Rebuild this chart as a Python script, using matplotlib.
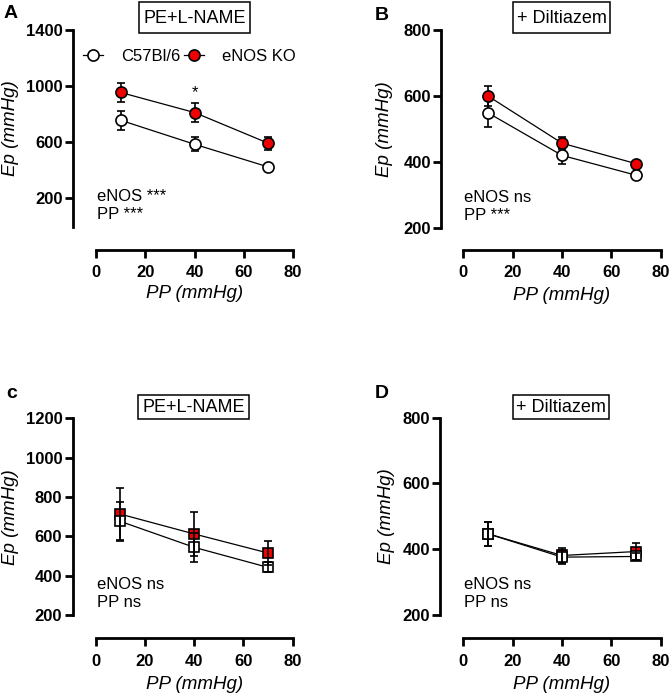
import matplotlib
matplotlib.use('Agg')
import matplotlib.pyplot as plt
from matplotlib.lines import Line2D
from matplotlib.patches import Rectangle

plt.rcParams['font.family'] = ['Liberation Sans', 'DejaVu Sans']

W, H = 671, 696

# PP (mmHg) levels
pp = [10, 40, 70]

# A: PE+L-NAME, circles
a_wt = [757, 586, 424]
a_wt_err = [68, 50, 12]
a_ko = [955, 812, 593]
a_ko_err = [65, 65, 45]
# B: + Diltiazem, circles
b_wt = [549, 420, 360]
b_wt_err = [42, 25, 8]
b_ko = [600, 457, 395]
b_ko_err = [30, 18, 8]
# c: PE+L-NAME, squares
c_wt = [676, 544, 442]
c_wt_err = [98, 73, 25]
c_ko = [713, 612, 515]
c_ko_err = [134, 110, 63]
# D: + Diltiazem, squares
d_wt = [447, 376, 378]
d_wt_err = [37, 21, 12]
d_ko = [447, 381, 393]
d_ko_err = [37, 24, 27]

fig = plt.figure(figsize=(W/100, H/100), dpi=100)

def px_axes(x0, x1, ytop, ybot):
    return fig.add_axes([x0/W, 1-ybot/H, (x1-x0)/W, (ybot-ytop)/H])

def style(ax, ylim, yticks, left_off, bot_off, ylab_x, xlab_y):
    ax.set_xlim(0, 80)
    ax.set_ylim(*ylim)
    ax.set_xticks([0, 20, 40, 60, 80])
    ax.set_yticks(yticks)
    for s in ['top', 'right']:
        ax.spines[s].set_visible(False)
    ax.spines['left'].set_position(('outward', left_off*0.72))
    ax.spines['bottom'].set_position(('outward', bot_off*0.72))
    for s in ['left', 'bottom']:
        ax.spines[s].set_linewidth(2.0)
    ax.tick_params(width=2.0, length=6, labelsize=12, pad=1.5)
    ax.tick_params(axis='x', pad=5)
    for lab in ax.get_xticklabels() + ax.get_yticklabels():
        lab.set_fontweight('bold')
    ax.set_ylabel('Ep (mmHg)', fontsize=13.5, style='italic')
    ax.set_xlabel('PP (mmHg)', fontsize=13.5, style='italic')
    ax.yaxis.set_label_coords(ylab_x, 0.5)
    ax.xaxis.set_label_coords(0.5, xlab_y)

def draw(ax, wt, wt_err, ko, ko_err, marker, ms, ebar_top):
    ez = 5 if ebar_top else 2
    for y, e in [(ko, ko_err), (wt, wt_err)]:
        ax.errorbar(pp, y, yerr=e, fmt='none', ecolor='black', elinewidth=1.2,
                    capsize=3, capthick=1.2, zorder=ez, clip_on=False)
    ax.plot(pp, ko, color='black', lw=0.9, marker=marker, ms=ms, mfc='#ee0000',
            mec='black', mew=1.2, zorder=3, clip_on=False)
    ax.plot(pp, wt, color='black', lw=0.9, marker=marker, ms=ms, mfc='white',
            mec='black', mew=1.2, zorder=4, clip_on=False)

def stats(ax, l1, l2):
    ax.text(0.005, 0.155, l1, transform=ax.transAxes, fontsize=12, va='center', ha='left')
    ax.text(0.005, 0.063, l2, transform=ax.transAxes, fontsize=12, va='center', ha='left')

def title_box(x0, x1, y0, y1, txt, ty):
    fig.patches.append(Rectangle((x0/W, 1-y1/H), (x1-x0)/W, (y1-y0)/H,
                                 transform=fig.transFigure, fill=False,
                                 edgecolor='black', lw=1.1))
    fig.text((x0+x1)/2/W, 1-ty/H, txt, ha='center', va='center', fontsize=13)

# Panel A
axA = px_axes(96, 293, 30, 226.5)
draw(axA, a_wt, a_wt_err, a_ko, a_ko_err, 'o', 8, False)
style(axA, (0, 1400), [200, 600, 1000, 1400], 23, 23, -0.39, -0.30)
stats(axA, 'eNOS ***', 'PP ***')
axA.text(40, 955, '*', ha='center', va='center', fontsize=12)
handles = [Line2D([], [], color='black', lw=0.9, marker='o', ms=8, mfc='white', mec='black', mew=1.2),
           Line2D([], [], color='black', lw=0.9, marker='o', ms=8, mfc='#ee0000', mec='black', mew=1.2)]
axA.legend(handles, ['C57Bl/6', 'eNOS KO'], loc='center left', bbox_to_anchor=(-0.066, 0.865),
           ncol=2, frameon=False, fontsize=12, handlelength=1.2, handletextpad=1.1,
           columnspacing=0.2, borderpad=0, borderaxespad=0)

# Panel B
axB = px_axes(463.3, 660.7, 30, 228)
draw(axB, b_wt, b_wt_err, b_ko, b_ko_err, 'o', 8, False)
style(axB, (200, 800), [200, 400, 600, 800], 22, 22, -0.356, -0.30)
stats(axB, 'eNOS ns', 'PP ***')

# Panel c
axC = px_axes(95.7, 292.7, 418.3, 615)
draw(axC, c_wt, c_wt_err, c_ko, c_ko_err, 's', 6.8, True)
style(axC, (200, 1200), [200, 400, 600, 800, 1000, 1200], 23, 23.3, -0.39, -0.31)
stats(axC, 'eNOS ns', 'PP ns')

# Panel D
axD = px_axes(463.3, 660.7, 417.7, 615)
draw(axD, d_wt, d_wt_err, d_ko, d_ko_err, 's', 6.8, True)
style(axD, (200, 800), [200, 400, 600, 800], 23, 23.3, -0.346, -0.31)
stats(axD, 'eNOS ns', 'PP ns')

title_box(139, 250, 2, 33, 'PE+L-NAME', 18.5)
title_box(513, 610, 2, 33, '+ Diltiazem', 18.5)
title_box(138, 249, 395, 419, 'PE+L-NAME', 407)
title_box(513, 609, 395, 419, '+ Diltiazem', 407)

for x, y, t in [(11, 13, 'A'), (381.5, 15, 'B'), (12, 393, 'c'), (381.5, 393.5, 'D')]:
    fig.text(x/W, 1-y/H, t, ha='center', va='center', fontsize=14, fontweight='bold')

fig.savefig('out.png', dpi=100)
